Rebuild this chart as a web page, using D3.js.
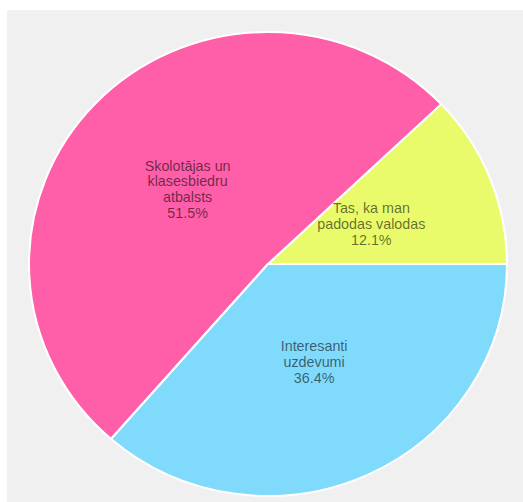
<!DOCTYPE html>
<html>
<head>
<meta charset="utf-8">
<script src="https://cdn.jsdelivr.net/npm/d3@7"></script>
<style>
  html, body { margin: 0; padding: 0; background: #ffffff; }
  svg { display: block; }
</style>
</head>
<body>
<svg id="chart" width="523" height="502"></svg>
<script>
const categories = ["Tas, ka man padodas valodas", "Skolotājas un klasesbiedru atbalsts", "Interesanti uzdevumi"];
const labelLines = [["Tas, ka man", "padodas valodas"], ["Skolotājas un", "klasesbiedru", "atbalsts"], ["Interesanti", "uzdevumi"]];
const values = [12.1, 51.5, 36.4];
const colors = ["#E9FB6A", "#FF5EA8", "#80DAFB"];

const svg = d3.select("#chart");
const W = 523, H = 502;
svg.append("rect").attr("x", 7).attr("y", 10).attr("width", W - 7).attr("height", H - 10).attr("fill", "#f0f0f0");

const cx = 268, cy = 264, R = 232, sx = 239 / 232;
const data = categories.map((c, i) => ({ name: c, lines: labelLines[i], value: values[i], color: colors[i] }));

const pie = d3.pie().value(d => d.value).sort(null)
  .startAngle(Math.PI / 2).endAngle(Math.PI / 2 - 2 * Math.PI);
const arcs = pie(data);
const arc = d3.arc().innerRadius(0).outerRadius(R);
const labelArc = d3.arc().innerRadius(0).outerRadius(216);

const g = svg.append("g").attr("transform", `translate(${cx},${cy}) scale(${sx},1)`);
g.selectAll("path").data(arcs).join("path")
  .attr("d", arc)
  .attr("fill", d => d.data.color)
  .attr("stroke", "#ffffff")
  .attr("stroke-width", 2)
  .attr("stroke-linejoin", "round");

const lg = svg.append("g").attr("transform", `translate(${cx},${cy})`);
const total = d3.sum(values);
const lineH = 15.8;
arcs.forEach(a => {
  const [x, y] = labelArc.centroid(a);
  const lines = a.data.lines.concat([d3.format(".1f")(a.data.value / total * 100) + "%"]);
  const t = lg.append("text")
    .attr("x", x * sx).attr("y", y)
    .attr("text-anchor", "middle")
    .attr("font-family", "'Liberation Sans', Arial, sans-serif")
    .attr("font-size", 14.3)
    .attr("fill", "#000")
    .attr("fill-opacity", 0.58);
  const n = lines.length;
  lines.forEach((l, i) => {
    t.append("tspan").attr("x", x * sx)
      .attr("y", y + (i - (n - 1) / 2) * lineH)
      .attr("dy", "0.35em")
      .text(l);
  });
});
</script>
</body>
</html>
